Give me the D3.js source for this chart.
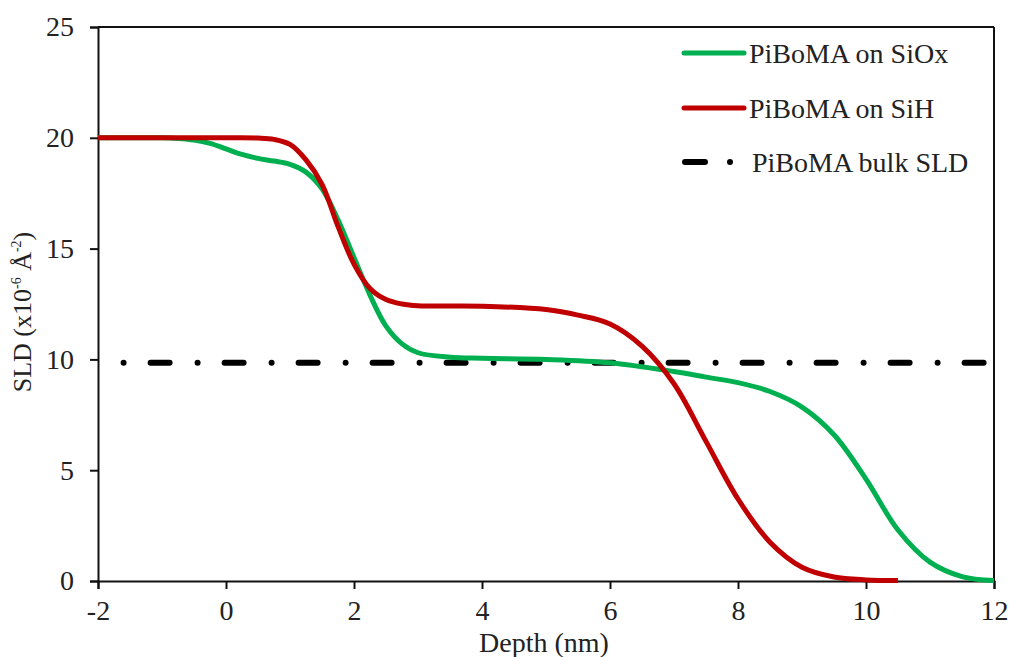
<!DOCTYPE html>
<html>
<head>
<meta charset="utf-8">
<script src="https://cdn.jsdelivr.net/npm/d3@7"></script>
<style>
  html, body { margin: 0; padding: 0; background: #fff; }
  svg { display: block; }
  text { font-family: "Liberation Serif", "Times New Roman", serif; fill: #222; }
</style>
</head>
<body>
<svg id="chart" width="1015" height="657"></svg>
<script>
// ---- data ----
const xTicks = [-2, 0, 2, 4, 6, 8, 10, 12];
const yTicks = [0, 5, 10, 15, 20, 25];

const siOxDepth = [-2, -1, -0.75, -0.5, -0.25, 0, 0.25, 0.5, 0.75, 1.0, 1.25, 1.5, 1.75, 2.0, 2.25, 2.5, 2.75, 3.0, 3.5, 4, 5, 6, 7, 7.5, 8, 8.5, 9, 9.5, 10, 10.5, 11, 11.5, 12];
const siOxSLD   = [20, 20, 19.97, 19.9, 19.75, 19.5, 19.25, 19.07, 18.95, 18.8, 18.45, 17.7, 16.3, 14.6, 12.9, 11.5, 10.7, 10.3, 10.1, 10.05, 10.0, 9.85, 9.45, 9.2, 8.95, 8.55, 7.85, 6.6, 4.6, 2.3, 0.85, 0.2, 0.02];

const siHDepth = [-2, -1, 0, 0.5, 0.75, 1.0, 1.25, 1.5, 1.75, 2.0, 2.25, 2.5, 2.75, 3, 4, 5, 5.5, 6, 6.5, 7, 7.5, 8, 8.5, 9, 9.5, 10, 10.5];
const siHSLD   = [20, 20, 20, 19.99, 19.93, 19.7, 19.0, 17.9, 16.0, 14.3, 13.2, 12.7, 12.5, 12.42, 12.4, 12.25, 12.0, 11.6, 10.6, 8.9, 6.3, 3.7, 1.75, 0.62, 0.18, 0.05, 0.02];

const bulkDepth = [-1.6, 11.85];
const bulkSLD = 9.85;

const seriesNames = ["PiBoMA on SiOx", "PiBoMA on SiH", "PiBoMA bulk SLD"];
const seriesColors = ["#00B050", "#C00000", "#000000"];

// ---- layout ----
const svg = d3.select("#chart");
const L = 98, R = 994, T = 27, B = 581;
const x = d3.scaleLinear().domain([-2, 12]).range([L, R]);
const y = d3.scaleLinear().domain([0, 25]).range([B, T]);
const FS = 28;
const fmt = d => String(d);

// frame (top & right)
svg.append("line").attr("x1", L).attr("x2", R).attr("y1", T).attr("y2", T)
  .attr("stroke", "#111").attr("stroke-width", 2);
svg.append("line").attr("x1", R).attr("x2", R).attr("y1", T).attr("y2", B)
  .attr("stroke", "#111").attr("stroke-width", 2);

// axes
const xAxis = svg.append("g").attr("transform", `translate(0,${B})`)
  .call(d3.axisBottom(x).tickValues(xTicks).tickSize(8).tickPadding(9).tickFormat(fmt));
const yAxis = svg.append("g").attr("transform", `translate(${L},0)`)
  .call(d3.axisLeft(y).tickValues(yTicks).tickSize(8).tickPadding(16).tickFormat(fmt));
[xAxis, yAxis].forEach(g => {
  g.select(".domain").attr("stroke", "#111").attr("stroke-width", 2);
  g.selectAll(".tick line").attr("stroke", "#111").attr("stroke-width", 2);
  g.selectAll(".tick text").attr("font-size", FS)
    .attr("font-family", "Liberation Serif, Times New Roman, serif").attr("fill", "#222");
});
xAxis.selectAll(".tick text").attr("dy", "0.79em");

// axis titles
svg.append("text").attr("x", (L + R) / 2 - 2).attr("y", 652)
  .attr("text-anchor", "middle").attr("font-size", FS).text("Depth (nm)");

const yt = svg.append("text")
  .attr("transform", `translate(31,${(T + B) / 2 + 8}) rotate(-90)`)
  .attr("text-anchor", "middle").attr("font-size", 26);
yt.append("tspan").text("SLD (x10");
yt.append("tspan").attr("font-size", 14).attr("dy", -10).text("-6");
yt.append("tspan").attr("dy", 10).text(" Å");
yt.append("tspan").attr("font-size", 14).attr("dy", -10).text("-2");
yt.append("tspan").attr("dy", 10).text(")");

// lines
const line = d3.line().x(d => x(d[0])).y(d => y(d[1])).curve(d3.curveCatmullRom.alpha(0.5));

// bulk dash-dot
svg.append("line")
  .attr("x1", x(bulkDepth[0])).attr("x2", x(bulkDepth[1]))
  .attr("y1", y(bulkSLD)).attr("y2", y(bulkSLD))
  .attr("stroke", seriesColors[2]).attr("stroke-width", 6)
  .attr("stroke-linecap", "round").attr("stroke-dasharray", "0 27 19 28");

svg.append("path").datum(siOxDepth.map((d, i) => [d, siOxSLD[i]]))
  .attr("d", line).attr("fill", "none").attr("stroke", seriesColors[0]).attr("stroke-width", 5);
svg.append("path").datum(siHDepth.map((d, i) => [d, siHSLD[i]]))
  .attr("d", line).attr("fill", "none").attr("stroke", seriesColors[1]).attr("stroke-width", 5);

// legend
const legY = [53, 108, 162];
seriesNames.forEach((name, i) => {
  const g = svg.append("g");
  if (i < 2) {
    g.append("line").attr("x1", 684).attr("x2", 744).attr("y1", legY[i]).attr("y2", legY[i])
      .attr("stroke", seriesColors[i]).attr("stroke-width", 5).attr("stroke-linecap", "round");
  } else {
    g.append("line").attr("x1", 685).attr("x2", 732).attr("y1", legY[i]).attr("y2", legY[i])
      .attr("stroke", seriesColors[i]).attr("stroke-width", 6).attr("stroke-linecap", "round")
      .attr("stroke-dasharray", "20 25 0 200");
  }
  g.append("text").attr("x", i < 2 ? 749 : 752).attr("y", legY[i] + 10)
    .attr("font-size", FS).text(name);
});
</script>
</body>
</html>
